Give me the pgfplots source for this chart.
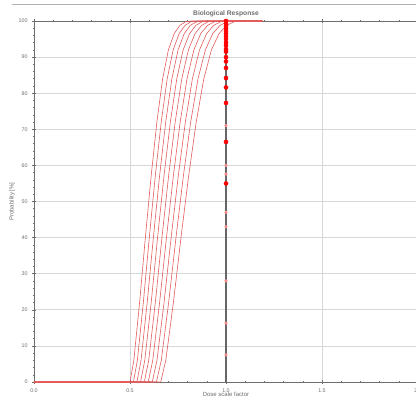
\documentclass[border=0pt]{standalone}
\usepackage{fontspec}
\setmainfont{Liberation Sans}
\usepackage{pgfplots}
\usepackage{pgfplotstable}
\pgfplotsset{compat=1.18}
\definecolor{curve}{RGB}{228,90,90}
\definecolor{gridc}{RGB}{215,215,215}
\definecolor{axc}{RGB}{110,110,110}
\pgfplotstableread{
y x0 x1 x2 x3 x4 x5 x6 x7 x8
0 0 0 0 0 0 0 0 0 0
0 0.5000 0.5177 0.5360 0.5549 0.5745 0.5948 0.6158 0.6375 0.6600
6 0.5200 0.5384 0.5574 0.5770 0.5974 0.6185 0.6404 0.6630 0.6864
22 0.5500 0.5694 0.5895 0.6103 0.6319 0.6542 0.6773 0.7013 0.7260
40 0.5800 0.6005 0.6217 0.6436 0.6664 0.6899 0.7143 0.7395 0.7656
57 0.6100 0.6315 0.6539 0.6769 0.7008 0.7256 0.7512 0.7778 0.8052
72 0.6400 0.6626 0.6860 0.7102 0.7353 0.7613 0.7882 0.8160 0.8448
84 0.6700 0.6937 0.7182 0.7435 0.7698 0.7970 0.8251 0.8543 0.8844
92 0.7000 0.7247 0.7503 0.7768 0.8042 0.8327 0.8621 0.8925 0.9240
96.5 0.7300 0.7558 0.7825 0.8101 0.8387 0.8683 0.8990 0.9308 0.9636
98.8 0.7600 0.7868 0.8146 0.8434 0.8732 0.9040 0.9359 0.9690 1.0032
99.8 0.7900 0.8179 0.8468 0.8767 0.9076 0.9397 0.9729 1.0073 1.0428
100 0.8200 0.8489 0.8790 0.9100 0.9421 0.9754 1.0098 1.0455 1.0824
100 1.19 1.19 1.19 1.19 1.19 1.19 1.19 1.19 1.19
}\curves
\begin{document}
\begin{tikzpicture}
\begin{axis}[
  at={(0,0)}, anchor=south west,
  scale only axis, width=288pt, height=270.75pt,
  xmin=0, xmax=2, ymin=0, ymax=100,
  xtick={0,0.5,1,1.5,2}, ytick={0,10,...,100},
  minor x tick num=4, minor y tick num=4,
  xticklabel style={/pgf/number format/.cd, fixed, fixed zerofill, precision=1},
  /pgf/number format/assume math mode=true,
  tick label style={font=\fontsize{4}{5}\selectfont, text=axc},
  tick style={axc, line width=0.4pt},
  major tick length=2.5pt, minor tick length=1.5pt,
  tick align=center,
  grid=major, major grid style={gridc, line width=0.5pt},
  axis line style={axc, line width=0.6pt},
  title={Biological Response},
  title style={font=\fontsize{5}{6}\selectfont\bfseries, text=axc, yshift=-6.5pt},
  xlabel={Dose scale factor},
  ylabel={Probability [\%]},
  label style={font=\fontsize{4.5}{5}\selectfont, text=axc},
  xlabel style={yshift=6.5pt},
  ylabel style={yshift=-4pt},
  clip=false,
]
\foreach \c in {x0,x1,x2,x3,x4,x5,x6,x7,x8}{
  \addplot[curve, line width=0.45pt, no marks] table[x=\c, y=y] {\curves};
}
\addplot[gray!80!black, line width=1.1pt, no marks] coordinates {(1,0) (1,100)};
\addplot[only marks, mark=*, mark size=1pt, color=red!45!white, mark options={draw=red!45!white, fill=red!45!white}] coordinates {
(1,71) (1,60) (1,57.6) (1,47) (1,43) (1,28) (1,16.3) (1,7.5)};
\addplot[only marks, mark=*, mark size=1.5pt, color=red, mark options={draw=red, fill=red}] coordinates {
(1,100) (1,99.3) (1,98.6) (1,97.9) (1,97.2) (1,96.5) (1,95.8) (1,95) (1,94) (1,93.2) (1,92.2) (1,91.5)
(1,90) (1,88.8) (1,87) (1,84.2) (1,81.6) (1,77.3) (1,66.5) (1,55)};
\end{axis}
\draw[gray!60, line width=0.6pt] (-16.5pt,283pt) -- (290pt,283pt);
\pgfresetboundingbox
\path[use as bounding box] (-25.5pt,-12.75pt) rectangle (286.5pt,286.5pt);
\end{tikzpicture}
\end{document}
